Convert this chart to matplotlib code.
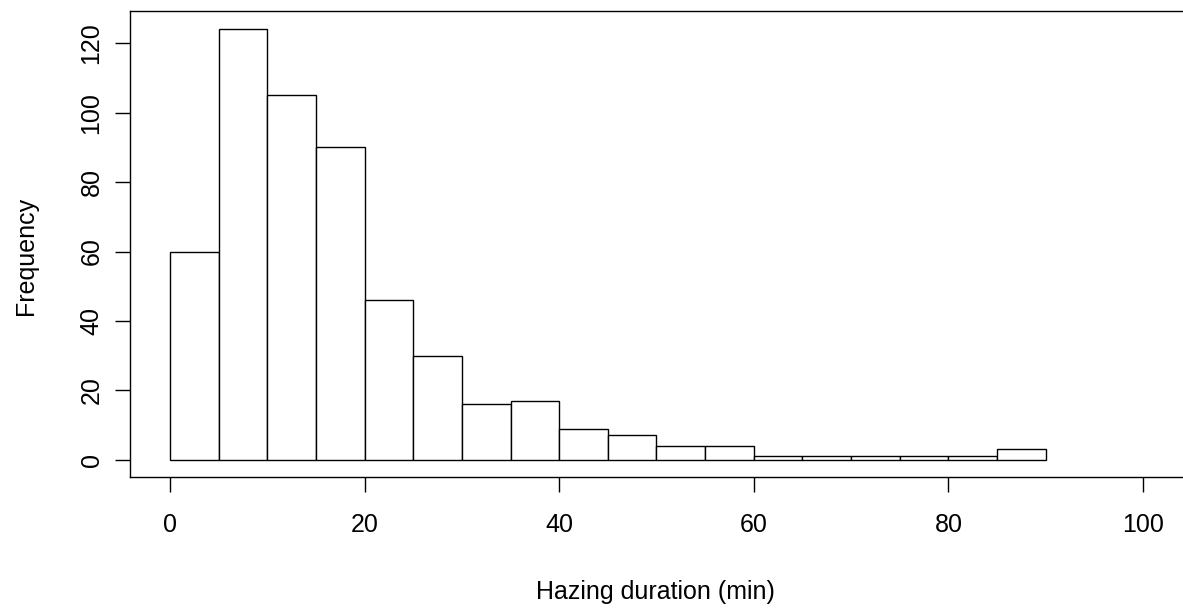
import matplotlib
matplotlib.use("Agg")
import matplotlib.pyplot as plt

# histogram counts, 5-minute bins from 0 to 90
bin_edges = [0, 5, 10, 15, 20, 25, 30, 35, 40, 45, 50, 55, 60, 65, 70, 75, 80, 85]
counts = [60, 124, 105, 90, 46, 30, 16, 17, 9, 7, 4, 4, 1, 1, 1, 1, 1, 3]
x_ticks = [0, 20, 40, 60, 80, 100]
y_ticks = [0, 20, 40, 60, 80, 100, 120]

plt.rcParams['font.family'] = ['Liberation Sans', 'DejaVu Sans']

fig = plt.figure(figsize=(11.83, 6.12), dpi=100)
# box runs off the right edge of the picture, like the reference
ax = fig.add_axes([130 / 1183, 135 / 612, 1056 / 1183, 466 / 612])

ax.bar(bin_edges, counts, width=5, align='edge', facecolor='white',
       edgecolor='black', linewidth=1.0)

ax.set_xlim(-4.11, 104.42)
ax.set_ylim(-4.96, 129.3)
ax.set_xticks(x_ticks)
ax.set_yticks(y_ticks)
ax.set_yticklabels([str(v) for v in y_ticks], rotation=90, va='center')

ax.tick_params(axis='x', direction='out', length=11, width=1, pad=15, labelsize=18)
ax.tick_params(axis='y', direction='out', length=11, width=1, pad=8, labelsize=18)
for s in ax.spines.values():
    s.set_linewidth(1.0)

ax.set_xlabel('Hazing duration (min)', fontsize=18)
ax.set_ylabel('Frequency', fontsize=18)
ax.xaxis.set_label_coords(0.5 - 2.5 / 1056, -0.221)
ax.yaxis.set_label_coords(-0.0875 * 1051 / 1056, 0.474)

fig.savefig('out.png', dpi=100)
